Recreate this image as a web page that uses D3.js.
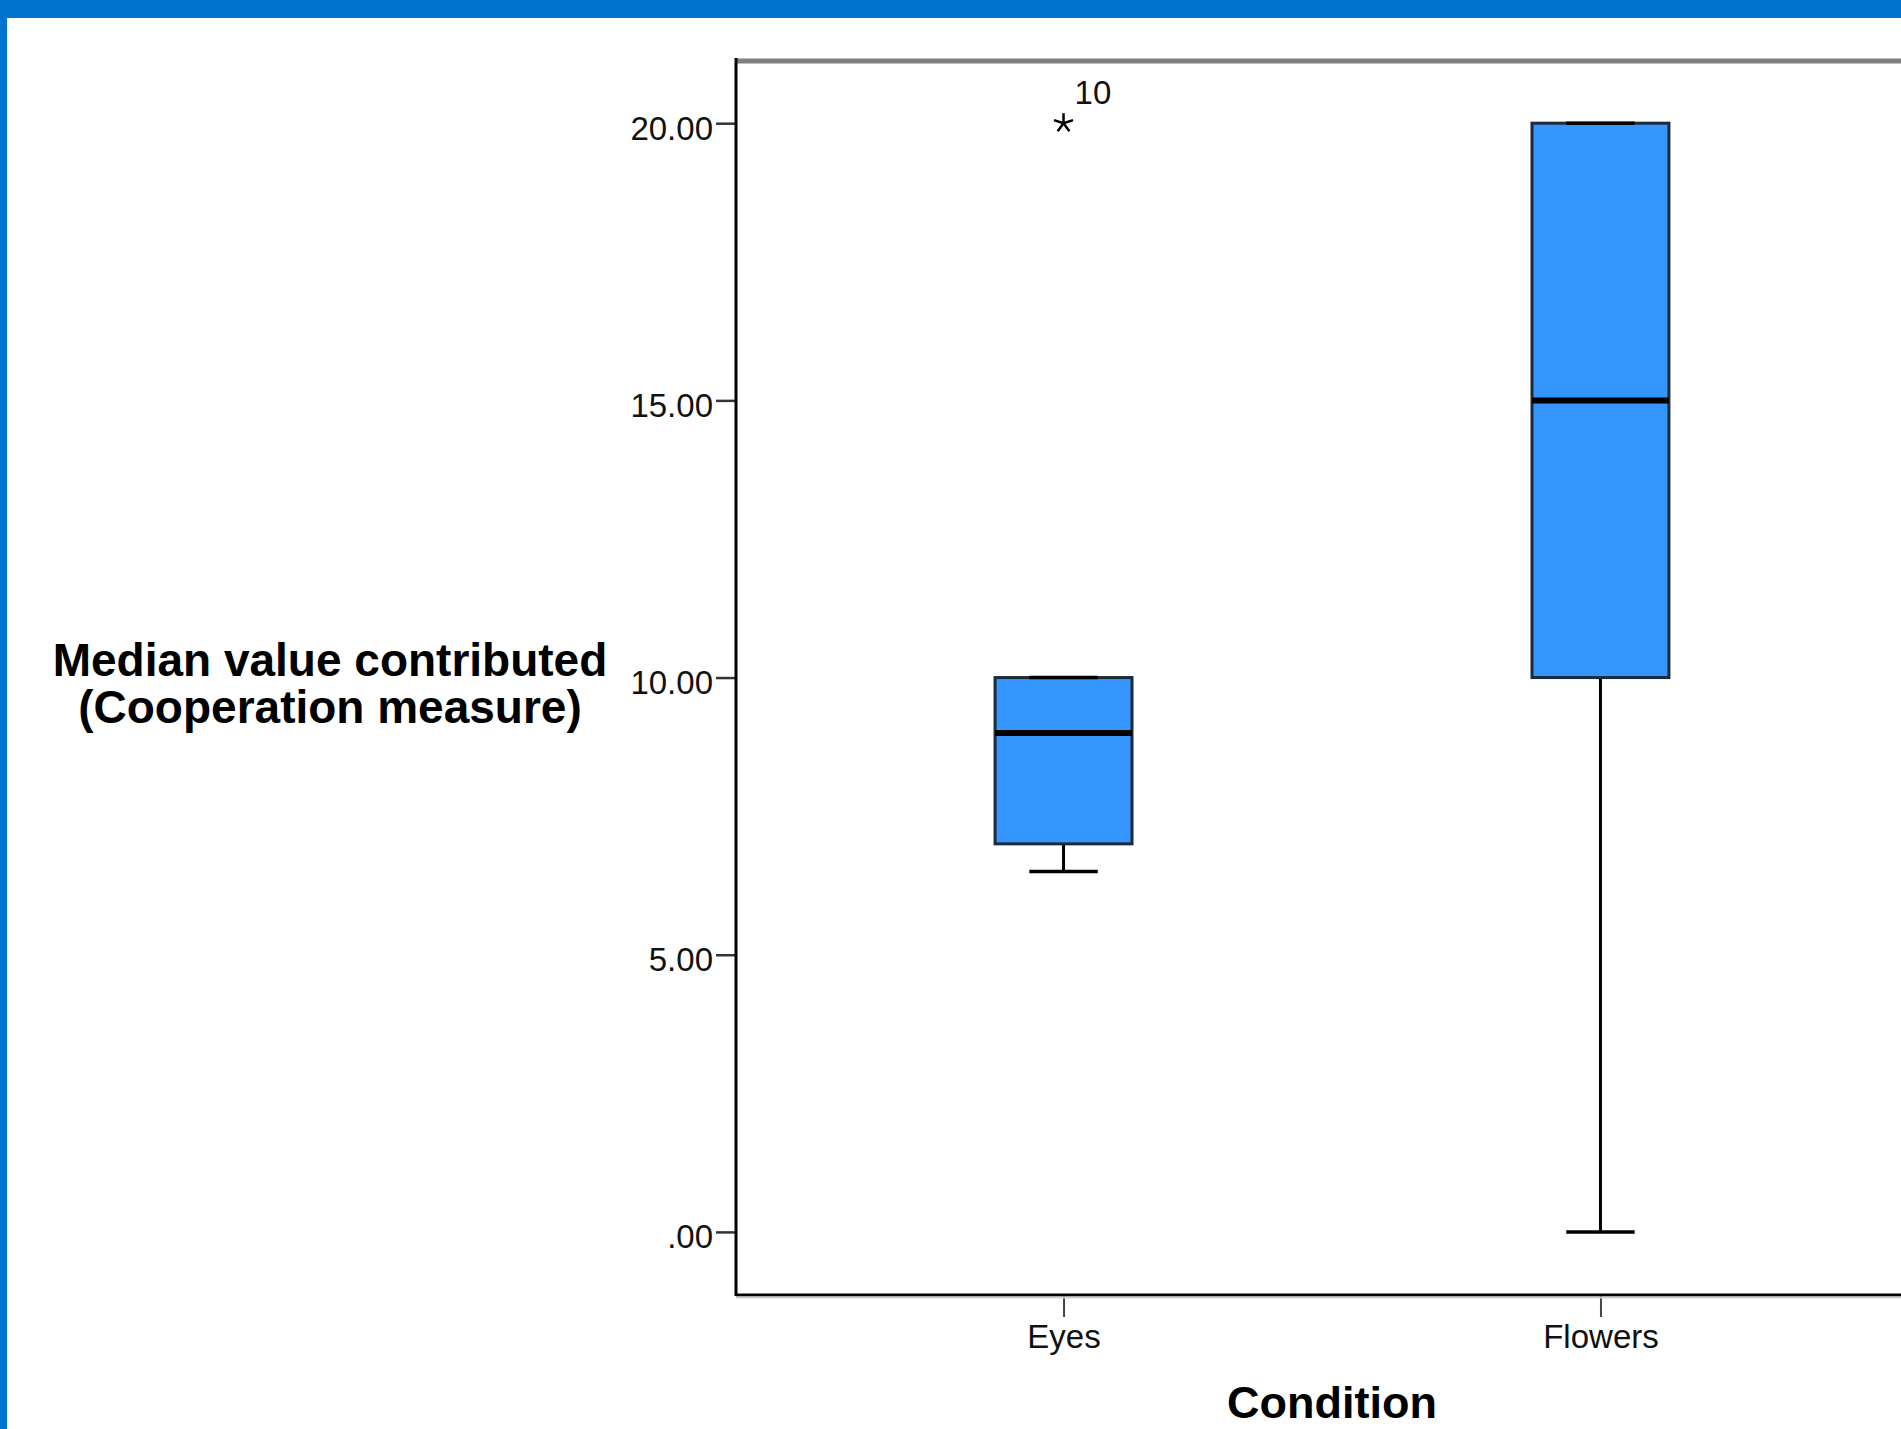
<!DOCTYPE html>
<html>
  <head>
    <meta charset="utf-8" />
    <script src="https://cdn.jsdelivr.net/npm/d3@7"></script>
    <style>
      body {
        margin: 0;
        background: #ffffff;
        overflow: hidden;
      }
      svg {
        display: block;
        font-family: "Liberation Sans", Arial, sans-serif;
      }
      .tick text {
        font-size: 33px;
        fill: #111;
      }
      .title {
        font-weight: bold;
        font-size: 46px;
        fill: #000;
      }
    </style>
  </head>
  <body>
    <svg id="chart"></svg>

    <script>
      // box plot values (SPSS style), one entry per condition
      const categories = ["Eyes", "Flowers"];
      const lowWhisker = [6.5, 0];
      const q1 = [7, 10];
      const medians = [9, 15];
      const q3 = [10, 20];
      const highWhisker = [10, 20];

      // extreme values (drawn as *), with case number
      const outlierCategory = ["Eyes"];
      const outlierValue = [20];
      const outlierCase = ["10"];

      const yTicks = [0, 5, 10, 15, 20];
      const yTickLabels = [".00", "5.00", "10.00", "15.00", "20.00"];

      const W = 1901,
        H = 1429;
      const plotLeft = 736,
        plotTop = 60,
        plotBottom = 1294;

      const svg = d3.select("#chart").attr("width", W).attr("height", H);

      // window frame
      svg.append("rect").attr("x", 0).attr("y", 0).attr("width", W).attr("height", 18).attr("fill", "#0073cf");
      svg.append("rect").attr("x", 0).attr("y", 0).attr("width", 7).attr("height", H).attr("fill", "#0073cf");

      const x = d3.scalePoint().domain(categories).range([plotLeft, 1928]).padding(0.61);
      const y = d3.scaleLinear().domain([-1.12, 21.14]).range([plotBottom, plotTop]);

      const boxW = x.step() * 0.255;
      const capW = boxW / 2;

      // plot frame
      svg.append("line")
        .attr("x1", plotLeft).attr("x2", W).attr("y1", plotTop + 1).attr("y2", plotTop + 1)
        .attr("stroke", "#808080").attr("stroke-width", 5);

      // y axis
      const yAxis = svg.append("g")
        .attr("transform", `translate(${plotLeft},0)`)
        .call(d3.axisLeft(y).tickValues(yTicks).tickSize(20).tickPadding(3)
          .tickFormat((d, i) => yTickLabels[i]));
      yAxis.select(".domain").remove();
      yAxis.selectAll(".tick line").attr("stroke", "#333").attr("stroke-width", 2.5);
      yAxis.selectAll(".tick text").attr("dy", "0.48em");

      // x axis
      const xAxis = svg.append("g")
        .attr("transform", `translate(0,${plotBottom})`)
        .call(d3.axisBottom(x).tickSize(23).tickPadding(8));
      xAxis.select(".domain").remove();
      xAxis.selectAll(".tick line").attr("stroke", "#444").attr("stroke-width", 2);

      svg.append("line")
        .attr("x1", plotLeft).attr("x2", W).attr("y1", plotBottom + 1).attr("y2", plotBottom + 1)
        .attr("stroke", "#000").attr("stroke-width", 3);
      svg.append("line")
        .attr("x1", plotLeft).attr("x2", W).attr("y1", plotBottom + 3.5).attr("y2", plotBottom + 3.5)
        .attr("stroke", "#cfcfcf").attr("stroke-width", 2);
      svg.append("line")
        .attr("x1", plotLeft).attr("x2", plotLeft).attr("y1", plotTop - 2).attr("y2", plotBottom + 2)
        .attr("stroke", "#000").attr("stroke-width", 3);

      // boxes
      const g = svg.append("g");
      categories.forEach((c, i) => {
        const cx = x(c);
        // whiskers
        g.append("line")
          .attr("x1", cx).attr("x2", cx).attr("y1", y(q1[i])).attr("y2", y(lowWhisker[i]))
          .attr("stroke", "#000").attr("stroke-width", 3);
        g.append("line")
          .attr("x1", cx).attr("x2", cx).attr("y1", y(q3[i])).attr("y2", y(highWhisker[i]))
          .attr("stroke", "#000").attr("stroke-width", 3);

        g.append("rect")
          .attr("x", cx - boxW / 2)
          .attr("y", y(q3[i]))
          .attr("width", boxW)
          .attr("height", y(q1[i]) - y(q3[i]))
          .attr("fill", "#3597fe")
          .attr("stroke", "#1c2a3a")
          .attr("stroke-width", 3);

        // caps
        [lowWhisker[i], highWhisker[i]].forEach((v) => {
          g.append("line")
            .attr("x1", cx - capW / 2).attr("x2", cx + capW / 2)
            .attr("y1", y(v)).attr("y2", y(v))
            .attr("stroke", "#000").attr("stroke-width", 3.5);
        });

        // median
        g.append("line")
          .attr("x1", cx - boxW / 2).attr("x2", cx + boxW / 2)
          .attr("y1", y(medians[i])).attr("y2", y(medians[i]))
          .attr("stroke", "#000").attr("stroke-width", 6);
      });

      // extremes: little five armed asterisk plus case label
      outlierCategory.forEach((c, i) => {
        const cx = x(c),
          cy = y(outlierValue[i]);
        const r = 10;
        let p = "";
        for (let k = 0; k < 5; k++) {
          const a = -Math.PI / 2 + (k * 2 * Math.PI) / 5;
          p += `M${cx},${cy}L${cx + r * Math.cos(a)},${cy + r * Math.sin(a)}`;
        }
        svg.append("path").attr("d", p).attr("stroke", "#000").attr("stroke-width", 2.5).attr("fill", "none");
        svg.append("text")
          .attr("x", cx + 11)
          .attr("y", cy - 19)
          .attr("font-size", 33)
          .attr("fill", "#111")
          .text(outlierCase[i]);
      });

      // axis titles
      const yTitle = svg.append("text").attr("class", "title").attr("text-anchor", "middle");
      yTitle.append("tspan").attr("x", 330).attr("y", 676).text("Median value contributed");
      yTitle.append("tspan").attr("x", 330).attr("y", 723).text("(Cooperation measure)");

      // sits right on the bottom edge in the original, nudged up so it is not clipped
      svg.append("text")
        .attr("class", "title")
        .attr("text-anchor", "middle")
        .attr("x", (plotLeft + 1928) / 2)
        .attr("y", 1418)
        .style("font-size", "45px")
        .text("Condition");
    </script>
  </body>
</html>
